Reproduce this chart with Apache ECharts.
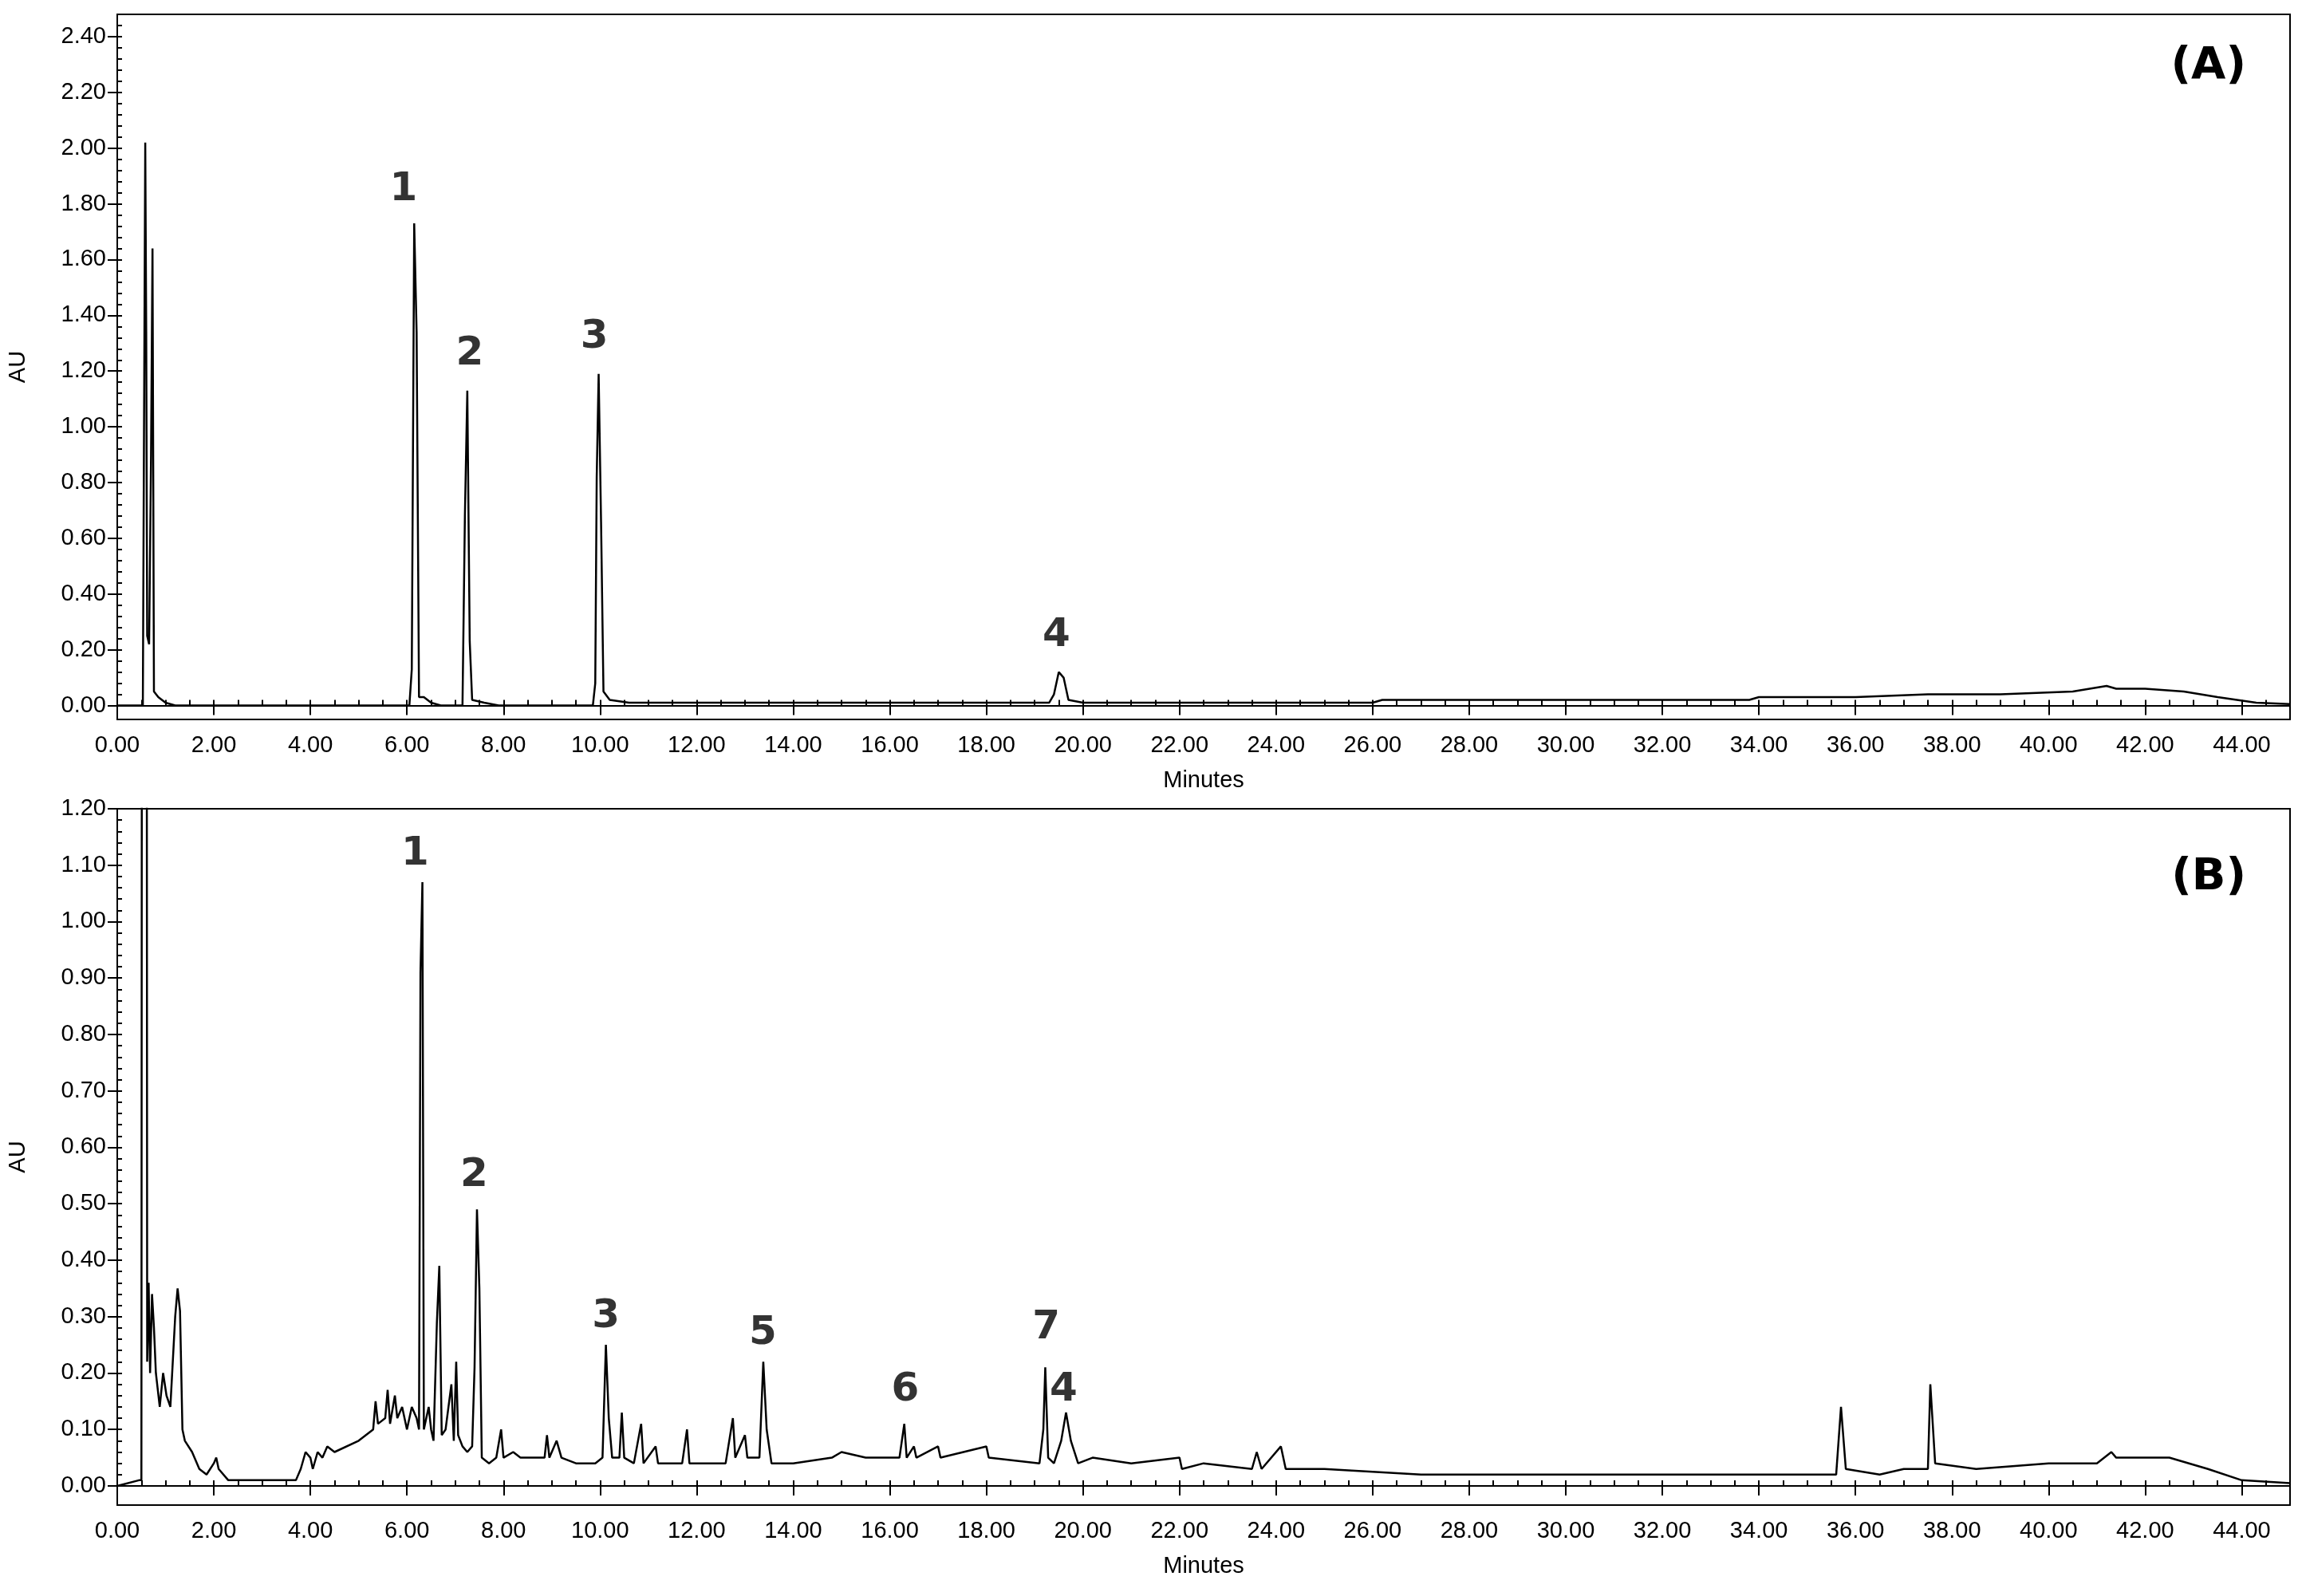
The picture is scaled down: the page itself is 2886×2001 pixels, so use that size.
<!DOCTYPE html><html><head><meta charset="utf-8"><script src="https://cdn.jsdelivr.net/npm/echarts@6/dist/echarts.min.js"></script>
<style>html,body{margin:0;background:#fff}#c{width:2886px;height:2001px}</style></head><body><div id="c"></div><script>
const xTicks=[0,2,4,6,8,10,12,14,16,18,20,22,24,26,28,30,32,34,36,38,40,42,44];
const yTicksA=[0,0.2,0.4,0.6,0.8,1.0,1.2,1.4,1.6,1.8,2.0,2.2,2.4];
const yTicksB=[0,0.1,0.2,0.3,0.4,0.5,0.6,0.7,0.8,0.9,1.0,1.1,1.2];
const traceA=[[0,0],[0.53,0],[0.55,0.82],[0.58,2.02],[0.6,1.34],[0.62,0.25],[0.66,0.22],[0.7,0.9],[0.73,1.64],[0.76,0.05],[0.85,0.03],[1.0,0.01],[1.2,0],[6.05,0],[6.1,0.13],[6.15,1.73],[6.2,1.34],[6.25,0.03],[6.35,0.03],[6.5,0.01],[6.7,0],[7.15,0],[7.2,0.68],[7.25,1.13],[7.3,0.23],[7.35,0.02],[7.6,0.01],[7.9,0],[9.85,0],[9.9,0.08],[9.93,0.82],[9.97,1.19],[10.02,0.66],[10.07,0.05],[10.2,0.02],[10.6,0.01],[11,0.01],[12,0.01],[19.3,0.01],[19.4,0.04],[19.5,0.12],[19.6,0.1],[19.7,0.02],[20,0.01],[26,0.01],[26.2,0.02],[33.8,0.02],[34,0.03],[36,0.03],[37.5,0.04],[39,0.04],[40.5,0.05],[41.2,0.07],[41.4,0.06],[42,0.06],[42.8,0.05],[43.5,0.03],[44.3,0.01],[45,0.005]];
const traceB=[[0,0],[0.45,0.01],[0.5,0.01],[0.52,3],[0.6,3],[0.62,0.22],[0.65,0.36],[0.68,0.2],[0.72,0.34],[0.76,0.28],[0.8,0.2],[0.88,0.14],[0.95,0.2],[1.02,0.16],[1.1,0.14],[1.2,0.3],[1.25,0.35],[1.3,0.31],[1.35,0.1],[1.4,0.08],[1.55,0.06],[1.7,0.03],[1.85,0.02],[2.0,0.04],[2.05,0.05],[2.1,0.03],[2.3,0.01],[2.5,0.01],[3.7,0.01],[3.8,0.03],[3.9,0.06],[4.0,0.05],[4.05,0.03],[4.15,0.06],[4.25,0.05],[4.35,0.07],[4.5,0.06],[5.0,0.08],[5.3,0.1],[5.35,0.15],[5.4,0.11],[5.55,0.12],[5.6,0.17],[5.65,0.11],[5.75,0.16],[5.8,0.12],[5.9,0.14],[6.0,0.1],[6.1,0.14],[6.2,0.12],[6.25,0.1],[6.28,0.91],[6.32,1.07],[6.35,0.1],[6.45,0.14],[6.5,0.1],[6.55,0.08],[6.62,0.29],[6.67,0.39],[6.72,0.09],[6.8,0.1],[6.92,0.18],[6.97,0.08],[7.02,0.22],[7.06,0.09],[7.15,0.07],[7.25,0.06],[7.35,0.07],[7.4,0.21],[7.45,0.49],[7.5,0.35],[7.55,0.05],[7.7,0.04],[7.85,0.05],[7.95,0.1],[8.0,0.05],[8.2,0.06],[8.35,0.05],[8.5,0.05],[8.85,0.05],[8.9,0.09],[8.95,0.05],[9.1,0.08],[9.2,0.05],[9.5,0.04],[9.9,0.04],[10.05,0.05],[10.12,0.25],[10.18,0.12],[10.25,0.05],[10.4,0.05],[10.45,0.13],[10.5,0.05],[10.7,0.04],[10.85,0.11],[10.9,0.04],[11.15,0.07],[11.2,0.04],[11.7,0.04],[11.8,0.1],[11.85,0.04],[12.6,0.04],[12.75,0.12],[12.8,0.05],[13.0,0.09],[13.05,0.05],[13.3,0.05],[13.38,0.22],[13.45,0.1],[13.55,0.04],[14,0.04],[14.8,0.05],[15,0.06],[15.5,0.05],[16.2,0.05],[16.3,0.11],[16.35,0.05],[16.5,0.07],[16.55,0.05],[17,0.07],[17.05,0.05],[18,0.07],[18.05,0.05],[19.1,0.04],[19.18,0.1],[19.22,0.21],[19.28,0.05],[19.4,0.04],[19.55,0.08],[19.65,0.13],[19.75,0.08],[19.9,0.04],[20.2,0.05],[21,0.04],[22,0.05],[22.05,0.03],[22.5,0.04],[23.5,0.03],[23.6,0.06],[23.7,0.03],[24.1,0.07],[24.2,0.03],[25,0.03],[27,0.02],[30,0.02],[32,0.02],[35.6,0.02],[35.7,0.14],[35.8,0.03],[36.5,0.02],[37,0.03],[37.5,0.03],[37.55,0.18],[37.65,0.04],[38.5,0.03],[40,0.04],[41,0.04],[41.3,0.06],[41.4,0.05],[42.5,0.05],[43.3,0.03],[44,0.01],[45,0.005]];
const peaksA=[[5.93,1.85,'1'],[7.3,1.26,'2'],[9.88,1.32,'3'],[19.45,0.25,'4']];
const peaksB=[[6.17,1.12,'1'],[7.39,0.55,'2'],[10.12,0.30,'3'],[13.37,0.27,'5'],[16.32,0.17,'6'],[19.24,0.28,'7'],[19.6,0.17,'4']];
const minorX=[];for(let v=0;v<=45;v+=0.5)minorX.push(v);
const minorA=[];for(let v=0;v<=2.48;v+=0.04)minorA.push(+v.toFixed(2));
const minorB=[];for(let v=0;v<=1.2001;v+=0.02)minorB.push(+v.toFixed(2));
const font='Liberation Sans';
function xAx(g){return [{gridIndex:g,type:'value',min:0,max:45,name:'Minutes',nameLocation:'middle',nameGap:62,nameTextStyle:{fontFamily:font,fontSize:29,color:'#000'},
 axisLine:{lineStyle:{color:'#000',width:2}},axisTick:{customValues:xTicks,length:12,lineStyle:{color:'#000',width:2}},
 axisLabel:{customValues:xTicks,formatter:v=>v.toFixed(2),fontFamily:font,fontSize:29,color:'#000',margin:18},splitLine:{show:false}},
 {gridIndex:g,type:'value',min:0,max:45,axisLine:{show:false},axisTick:{customValues:minorX,length:7,lineStyle:{color:'#000',width:2}},axisLabel:{show:false},splitLine:{show:false}}];}
function yAx(g,min,max,ticks,minor){return [{gridIndex:g,type:'value',min:min,max:max,name:'AU',nameLocation:'middle',nameGap:110,nameTextStyle:{fontFamily:font,fontSize:29,color:'#000'},
 axisLine:{show:true,lineStyle:{color:'#000',width:2}},axisTick:{customValues:ticks,length:12,lineStyle:{color:'#000',width:2}},
 axisLabel:{customValues:ticks,formatter:v=>v.toFixed(2),fontFamily:font,fontSize:29,color:'#000',margin:14},splitLine:{show:false}},
 {gridIndex:g,type:'value',min:min,max:max,axisLine:{show:false},axisTick:{show:true,customValues:minor,length:6,lineStyle:{color:'#000',width:2}},axisLabel:{show:false},splitLine:{show:false}}];}
const lbl={show:true,formatter:p=>p.value[2],fontFamily:'DejaVu Sans',fontWeight:'bold',fontSize:50,color:'#000',position:'inside'};
const opt={animation:false,
 grid:[{left:147,right:15,top:18,height:884,show:true,borderColor:'#000',borderWidth:2},{left:147,right:15,top:1014,height:873,show:true,borderColor:'#000',borderWidth:2}],
 xAxis:[...xAx(0),...xAx(1)],
 yAxis:[...yAx(0,-0.05,2.48,yTicksA,minorA),...yAx(1,-0.034,1.2,yTicksB,minorB)],
 graphic:[{type:'text',right:70,top:55,style:{text:'(A)',font:'bold 56px "DejaVu Sans"',fill:'#000'}},{type:'text',right:70,top:1072,style:{text:'(B)',font:'bold 56px "DejaVu Sans"',fill:'#000'}}],
 series:[
 {type:'line',xAxisIndex:0,yAxisIndex:0,data:traceA,showSymbol:false,clip:true,lineStyle:{color:'#000',width:2.5}},
 {type:'line',xAxisIndex:2,yAxisIndex:2,data:traceB,showSymbol:false,clip:true,lineStyle:{color:'#000',width:2.5}},
 {type:'scatter',xAxisIndex:0,yAxisIndex:0,data:peaksA,symbolSize:2,itemStyle:{color:'rgba(0,0,0,0)'},label:lbl},
 {type:'scatter',xAxisIndex:2,yAxisIndex:2,data:peaksB,symbolSize:2,itemStyle:{color:'rgba(0,0,0,0)'},label:lbl}
 ]};
echarts.init(document.getElementById('c')).setOption(opt);
</script></body></html>
